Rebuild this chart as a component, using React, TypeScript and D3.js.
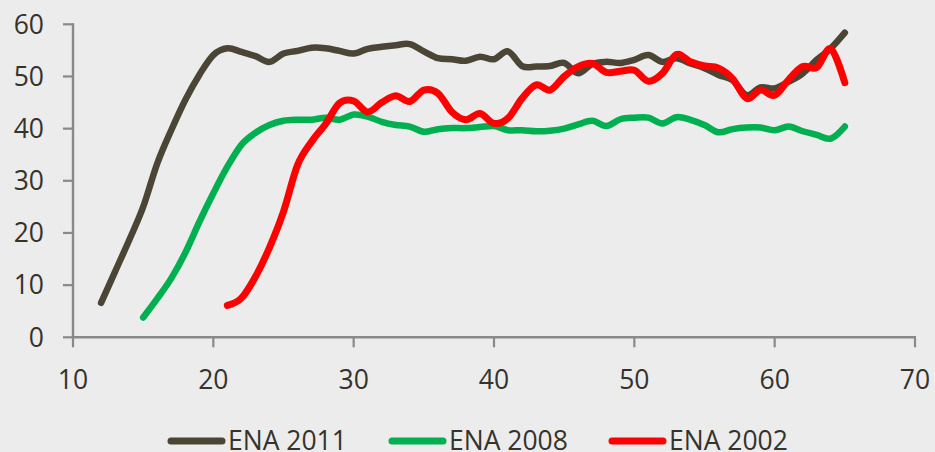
import React from "react";
import * as d3 from "d3";

const xTicks = [10, 20, 30, 40, 50, 60, 70];
const yTicks = [0, 10, 20, 30, 40, 50, 60];

const ages2011 = d3.range(12, 66);
const ena2011 = [
  6.6, 12.6, 18.6, 25.0, 33.3, 39.7, 45.5, 50.3, 54.1, 55.4,
  54.7, 53.9, 52.8, 54.4, 54.9, 55.5, 55.4, 54.9, 54.4, 55.3,
  55.7, 56.0, 56.2, 54.8, 53.5, 53.3, 53.0, 53.8, 53.3, 54.8,
  52.0, 51.9, 52.0, 52.6, 50.6, 52.4, 52.8, 52.6, 53.2, 54.1,
  52.8, 53.5, 52.5, 51.6, 50.3, 49.3, 46.4, 47.9, 47.7, 49.0,
  50.6, 53.2, 55.4, 58.4,
];

const ages2008 = d3.range(15, 66);
const ena2008 = [
  3.8, 7.4, 11.3, 16.2, 22.1, 27.6, 32.7, 36.9, 39.2, 40.7,
  41.5, 41.7, 41.7, 42.1, 41.7, 42.7, 42.3, 41.3, 40.7, 40.4,
  39.4, 39.9, 40.1, 40.1, 40.3, 40.5, 39.7, 39.7, 39.5, 39.6,
  40.0, 40.8, 41.5, 40.5, 41.8, 42.1, 42.1, 41.0, 42.2, 41.7,
  40.7, 39.3, 39.9, 40.2, 40.2, 39.7, 40.4, 39.5, 38.8, 38.1,
  40.4,
];

const ages2002 = d3.range(21, 66);
const ena2002 = [
  6.1, 7.5, 11.6, 17.2, 24.1, 33.0, 37.5, 40.9, 44.9, 45.3,
  43.2, 45.0, 46.3, 45.2, 47.4, 46.8, 43.2, 41.7, 42.9, 41.0,
  42.0, 45.8, 48.4, 47.4, 50.0, 51.9, 52.5, 50.8, 51.0, 51.2,
  49.1, 50.6, 54.2, 52.8, 52.0, 51.6, 49.6, 45.8, 47.4, 46.4,
  49.4, 51.9, 51.7, 55.3, 48.8,
];

const seriesNames = ["ENA 2011", "ENA 2008", "ENA 2002"];
const seriesColors = ["#4b4535", "#00b050", "#ff0000"];

const W = 935;
const H = 452;
const FONT = "'Open Sans', 'Liberation Sans', sans-serif";

export default function App() {
  const x = d3.scaleLinear().domain([10, 70]).range([73, 915]);
  const y = d3.scaleLinear().domain([0, 60]).range([337.3, 24.3]);

  const series = [
    { ages: ages2011, vals: ena2011 },
    { ages: ages2008, vals: ena2008 },
    { ages: ages2002, vals: ena2002 },
  ];

  const line = d3
    .line<[number, number]>()
    .x((d) => x(d[0]))
    .y((d) => y(d[1]))
    .curve(d3.curveCardinal.tension(0));

  const axisColor = "#898989";
  const textColor = "#35332b";

  const legendX = [167, 388, 608];

  return (
    <svg
      width={W}
      height={H}
      style={{ position: "fixed", left: 0, top: 0, background: "#ececec" }}
    >
      <rect x={0} y={0} width={W} height={H} fill="#ececec" />
      {/* axes */}
      <line x1={x(10)} x2={x(10)} y1={y(60) - 1} y2={y(0)} stroke={axisColor} strokeWidth={2.4} />
      <line x1={x(10) - 1} x2={x(70) + 1} y1={y(0)} y2={y(0)} stroke={axisColor} strokeWidth={2.4} />
      {yTicks.map((t) => (
        <g key={"y" + t}>
          <line x1={x(10) - 10} x2={x(10)} y1={y(t)} y2={y(t)} stroke={axisColor} strokeWidth={2.2} />
          <text
            x={44}
            y={y(t)}
            dy="0.35em"
            textAnchor="end"
            fontFamily={FONT}
            fontSize={26.5}
            fill={textColor}
          >
            {t}
          </text>
        </g>
      ))}
      {xTicks.map((t) => (
        <g key={"x" + t}>
          <line x1={x(t)} x2={x(t)} y1={y(0)} y2={y(0) + 10} stroke={axisColor} strokeWidth={2.2} />
          <text
            x={x(t)}
            y={389}
            textAnchor="middle"
            fontFamily={FONT}
            fontSize={26.5}
            fill={textColor}
          >
            {t}
          </text>
        </g>
      ))}
      {/* series */}
      {series.map((s, i) => (
        <path
          key={i}
          d={line(s.ages.map((a, j) => [a, s.vals[j]] as [number, number])) || ""}
          fill="none"
          stroke={seriesColors[i]}
          strokeWidth={i === 2 ? 7 : 6.5}
          strokeLinecap="round"
          strokeLinejoin="round"
        />
      ))}
      {/* legend */}
      {seriesNames.map((n, i) => (
        <g key={n}>
          <line
            x1={legendX[i] + 4}
            x2={legendX[i] + 55}
            y1={441}
            y2={441}
            stroke={seriesColors[i]}
            strokeWidth={7}
            strokeLinecap="round"
          />
          <text
            x={legendX[i] + 61}
            y={450}
            fontFamily={FONT}
            fontSize={26.5}
            fill={textColor}
          >
            {n}
          </text>
        </g>
      ))}
    </svg>
  );
}
